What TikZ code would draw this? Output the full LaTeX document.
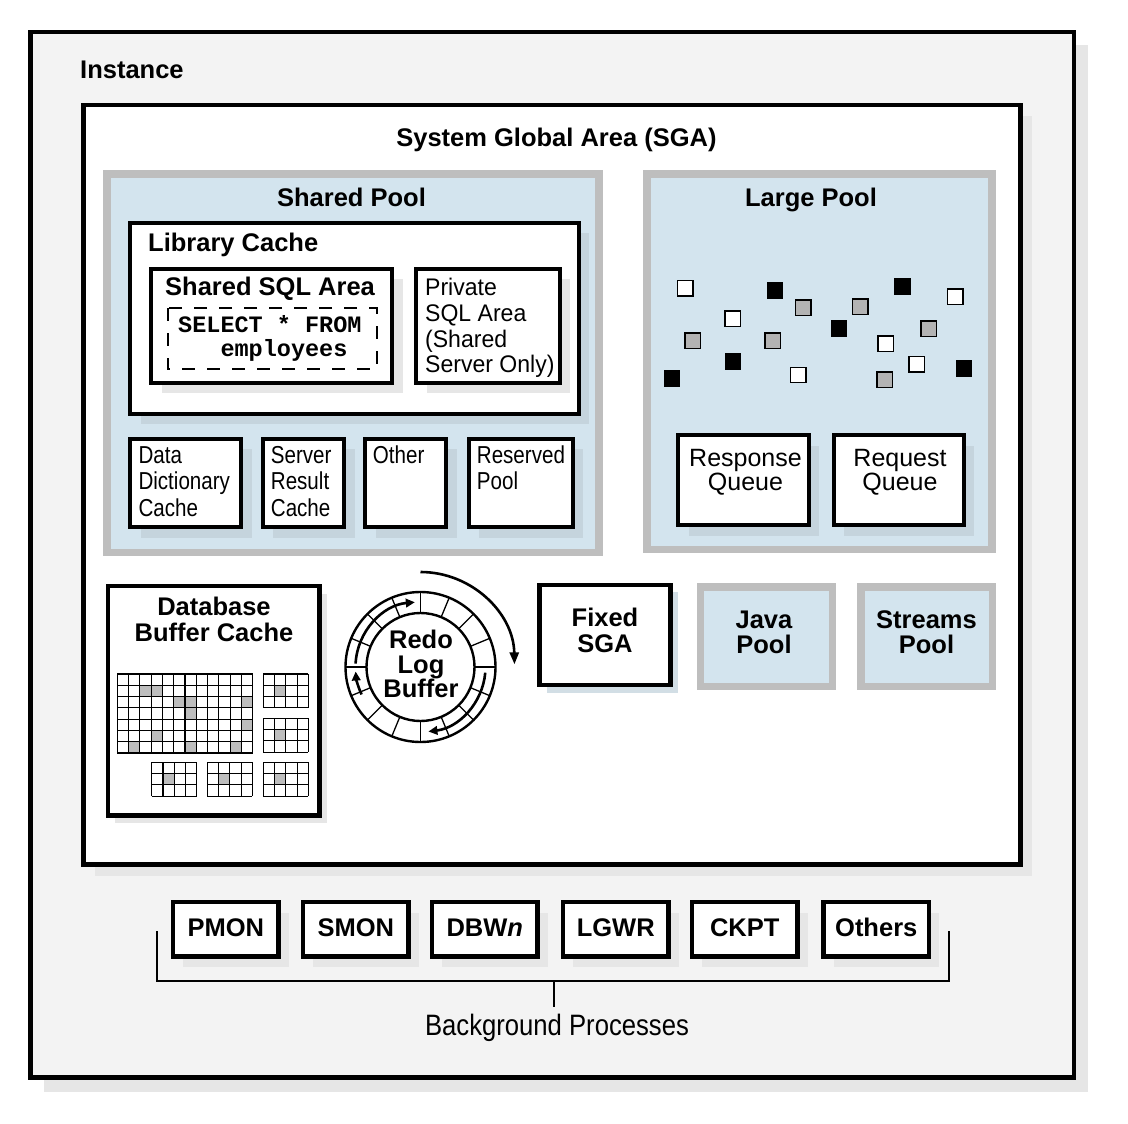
\documentclass[tikz,border=0pt]{standalone}
\usepackage{fontspec}
\setmainfont{Liberation Sans}
\newfontfamily\narrowf[FakeStretch=0.84]{Liberation Sans}
\newfontfamily\privf[FakeStretch=0.96]{Liberation Sans}
\newfontfamily\bgf[FakeStretch=0.87]{Liberation Sans}
\newfontfamily\monof{Liberation Mono}
\usetikzlibrary{arrows.meta}
\definecolor{instbg}{HTML}{F3F3F3}
\definecolor{poolbg}{HTML}{D3E4EE}
\definecolor{poolbd}{HTML}{BEBEBE}
\definecolor{shw}{HTML}{E6E6E6}
\definecolor{shb}{HTML}{C5D4DD}
\definecolor{shf}{HTML}{D2DEE5}
\definecolor{cellg}{HTML}{BDBDBD}
\definecolor{sqg}{HTML}{B3B3B3}
\begin{document}
\begin{tikzpicture}[x=1pt,y=-1pt,line join=miter,
  blk/.style={draw=black,line width=4.3pt,fill=white},
  poolbox/.style={draw=poolbd,line width=7.5pt,fill=poolbg},
  ttl/.style={inner sep=0pt,font=\fontsize{25.5}{26}\selectfont\bfseries},
  regt/.style={inner sep=0pt,font=\fontsize{25}{24.7}\selectfont},
  privt/.style={inner sep=0pt,font=\privf\fontsize{24}{25.7}\selectfont},
  nart/.style={inner sep=0pt,font=\narrowf\fontsize{24.5}{26.4}\selectfont},
  gl/.style={line width=1.1pt},
  ring/.style={line width=2.6pt,-{Triangle[length=9pt,width=8.5pt]}}]
\useasboundingbox (0,0) rectangle (1128,1124);
\fill[white] (0,0) rectangle (1128,1124);
% Instance
\fill[shw] (44,45.5) rectangle (1088,1091.5);
\draw[line width=4.5pt,fill=instbg] (30.3,31.8) rectangle (1073.8,1077.7);
\node[ttl,anchor=base west] (inst) at (80,79) {Instance};
% SGA
\fill[shw] (94.5,116.3) rectangle (1031.5,875.5);
\draw[blk] (83.5,105.3) rectangle (1020.5,864.5);
\node[ttl,anchor=base] (sga) at (556.5,146.5) {System Global Area (SGA)};
% Shared pool
\draw[poolbox] (107,173.8) rectangle (599.2,552.5);
\node[ttl,anchor=base] (sp) at (351.5,206.7) {Shared Pool};
\fill[shb] (140.5,233) rectangle (588.9,423.9);
\draw[blk] (130.3,222.8) rectangle (578.7,413.7);
\node[ttl,anchor=base west] (lc) at (148,251) {Library Cache};
\fill[shw] (161.5,279) rectangle (402.5,393);
\draw[blk] (151.2,268.8) rectangle (392.2,382.8);
\node[ttl,anchor=base west] (ssa) at (165,295) {Shared SQL Area};
\draw[line width=2pt,dash pattern=on 13pt off 12pt] (167.7,308.3) rectangle (376.7,369);
\node[inner sep=0pt,anchor=base west,align=left,font=\monof\fontsize{23.5}{24}\selectfont\bfseries] (sql) at (178,356.7) {SELECT * FROM\\\hspace*{42.3pt}employees};
\fill[shw] (426.5,279) rectangle (570,393);
\draw[blk] (416.3,268.8) rectangle (559.7,382.8);
\node[privt,anchor=base west,align=left] (psa) at (425,372.7) {Private\\SQL Area\\(Shared\\Server Only)};
% small boxes
\fill[shb] (140.6,449) rectangle (251.6,537.5);
\draw[blk] (130.3,438.7) rectangle (241.3,527);
\fill[shb] (273,449) rectangle (354.6,537.5);
\draw[blk] (262.7,438.7) rectangle (344.3,527);
\fill[shb] (375.6,449) rectangle (456.6,537.5);
\draw[blk] (365.3,438.7) rectangle (446.3,527);
\fill[shb] (479,449) rectangle (583,537.5);
\draw[blk] (468.7,438.7) rectangle (572.7,527);
\node[nart,anchor=base west,align=left] (ddc) at (138.3,516) {Data\\Dictionary\\Cache};
\node[nart,anchor=base west,align=left] (src) at (270.7,516) {Server\\Result\\Cache};
\node[nart,anchor=base west,align=left] (oth) at (372.7,463.3) {Other};
\node[nart,anchor=base west,align=left] (rsv) at (476.7,489.7) {Reserved\\Pool};
% Large pool
\draw[poolbox] (647,174) rectangle (992,549.3);
\node[ttl,anchor=base] (lp) at (811,206.7) {Large Pool};
\foreach \x/\y/\c in {685.3/288.3/white,775/290.7/black,803.3/307.7/sqg,732.7/318.7/white,
  692.7/340.7/sqg,772.7/340.7/sqg,733/361.7/black,672/378.3/black,798.3/375/white,
  839/328.7/black,860.3/306.7/sqg,902.3/286.3/black,955.3/296.7/white,928.7/328.7/sqg,
  885.7/343.7/white,916.7/364.3/white,884.7/379.7/sqg,964/368.7/black}
  \draw[line width=1.4pt,fill=\c] ({\x-7.6},{\y-7.6}) rectangle ({\x+7.6},{\y+7.6});
\fill[shb] (688.5,445.7) rectangle (819,535.7);
\draw[blk] (678,435.3) rectangle (808.7,525.3);
\fill[shb] (844,445.7) rectangle (974,535.7);
\draw[blk] (833.7,435.3) rectangle (963.7,525.3);
\node[regt,anchor=base,align=center] (rspq) at (745.5,490.7) {Response\\Queue};
\node[regt,anchor=base,align=center] (rqq) at (900,490.7) {Request\\Queue};
% Database buffer cache
\fill[shw] (115,593.5) rectangle (326.7,823.2);
\draw[blk] (107.8,586.2) rectangle (319.5,815.5);
\node[ttl,anchor=base,align=center] (dbc) at (214,641.7) {Database\\Buffer Cache};
\def\cw{11.28}
\foreach \c/\r in {2/1,3/1,5/2,6/2,11/2,6/3,11/4,3/5,1/6,6/6,10/6}
  \fill[cellg] ({117.3+\c*\cw},{674+\r*\cw}) rectangle ++(\cw,\cw);
\foreach \i in {0,...,12} \draw[gl] ({117.3+\i*\cw},674) -- ++(0,{7*\cw});
\foreach \j in {0,...,7} \draw[gl] (117.3,{674+\j*\cw}) -- ++({12*\cw},0);
\foreach \ox/\oy in {263.3/674,263.3/718.3,151.7/762.3,207.3/762.3,263.3/762.3}{
  \fill[cellg] ({\ox+\cw},{\oy+\cw}) rectangle ++(\cw,\cw);
  \foreach \i in {0,...,4} \draw[gl] ({\ox+\i*\cw},\oy) -- ++(0,{3*\cw});
  \foreach \j in {0,...,3} \draw[gl] (\ox,{\oy+\j*\cw}) -- ++({4*\cw},0);
}
% Redo log buffer
\begin{scope}[shift={(420.5,667)}]
  \fill[white] (0,0) circle[radius=75];
  \foreach \a in {0,22.5,...,337.5} \draw[line width=1.3pt] (\a:54) -- (\a:75);
  \draw[line width=2.4pt] (0,0) circle[radius=75];
  \draw[line width=2.4pt] (0,0) circle[radius=54];
  \draw[ring] (-205:65) arc[start angle=-205,end angle=-184,radius=65];
  \draw[ring] (-177:65) arc[start angle=-177,end angle=-95,radius=65];
  \draw[ring] (5:65) arc[start angle=5,end angle=83,radius=65];
  \draw[line width=2.6pt,-{Triangle[length=12pt,width=9pt]}] (-90:95) arc[start angle=-90,end angle=-1,radius=94];
\end{scope}
\node[ttl,anchor=base,align=center,font=\fontsize{25.5}{24.7}\selectfont\bfseries] (rlb) at (421,697.7) {Redo\\Log\\Buffer};
% Fixed SGA, Java, Streams
\fill[shf] (546.5,592.3) rectangle (677.5,692.7);
\draw[blk] (539.5,584.8) rectangle (670.5,685.2);
\node[ttl,anchor=base,align=center,font=\fontsize{25.5}{26.7}\selectfont\bfseries] (fsga) at (605,652.7) {Fixed\\SGA};
\draw[poolbox,line width=7.3pt] (700.3,587) rectangle (832.3,686.3);
\node[ttl,anchor=base,align=center,font=\fontsize{25.5}{25}\selectfont\bfseries] (jp) at (764,653.3) {Java\\Pool};
\draw[poolbox,line width=7.3pt] (861,587) rectangle (992.3,686.3);
\node[ttl,anchor=base,align=center,font=\fontsize{25.5}{25}\selectfont\bfseries] (stp) at (926.5,653.3) {Streams\\Pool};
% Background processes
\foreach \l/\t/\n in {173/PMON/pmon,303/SMON/smon,432/DBW\textit{n}/dbwn,563/LGWR/lgwr,692/CKPT/ckpt,823.5/Others/others}{
  \fill[shw] ({\l+10},912.5) rectangle ({\l+115.5},966.7);
  \draw[blk] (\l,902.2) rectangle ({\l+105.5},956.5);
  \node[ttl,anchor=base] (\n) at ({\l+52.75},936.7) {\t};
}
\coordinate (brl) at (157,931);
\coordinate (brr) at (949,931);
\coordinate (brk) at (554,980.5);
\coordinate (stemend) at (554,1006.7);
\draw[line width=2pt] (brl) -- (brl |- brk) -- (brr |- brk) -- (brr);
\draw[line width=2pt] (brk) -- (stemend);
\node[inner sep=0pt,anchor=base,font=\bgf\fontsize{29.5}{30}\selectfont] (bgp) at (557,1035.7) {Background Processes};
\end{tikzpicture}
\end{document}
